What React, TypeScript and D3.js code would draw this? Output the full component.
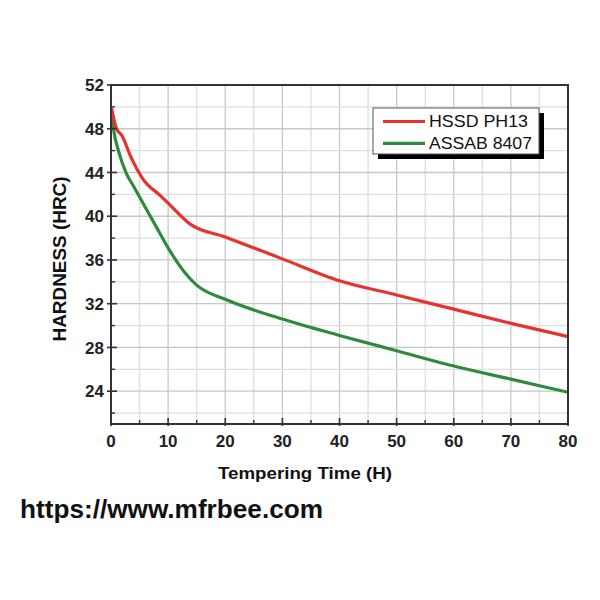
import React from "react";
import * as d3 from "d3";

const redTime = [0.1, 0.9, 2, 3.5, 5.6, 8.6, 10, 13.8, 20, 30, 40, 50, 60, 70, 80];
const redHardness = [49.9, 48.1, 47.3, 45.4, 43.4, 41.9, 41.2, 39.3, 38.1, 36.1, 34.1, 32.8, 31.5, 30.2, 29];
const greenTime = [0.1, 0.5, 1.3, 2.7, 4, 5.7, 8.6, 10, 12.7, 15, 20, 30, 40, 50, 60, 70, 80];
const greenHardness = [49.6, 47.8, 46, 43.9, 42.7, 41.1, 38.4, 37.1, 35, 33.7, 32.4, 30.6, 29.1, 27.7, 26.3, 25.1, 23.9];
const seriesNames = ["HSSD PH13", "ASSAB 8407"];
const xTicks = [0, 10, 20, 30, 40, 50, 60, 70, 80];
const yTicks = [24, 28, 32, 36, 40, 44, 48, 52];

const W = 600, H = 600;
const L = 111, R = 568, T = 85, B = 424;

export default function App() {
  const x = d3.scaleLinear().domain([0, 80]).range([L, R]);
  const y = d3.scaleLinear().domain([21, 52]).range([B, T]);
  const lineRed = d3.line<[number, number]>().x(d => x(d[0])).y(d => y(d[1])).curve(d3.curveMonotoneX);
  const lineGreen = d3.line<[number, number]>().x(d => x(d[0])).y(d => y(d[1])).curve(d3.curveMonotoneX);
  const red = redTime.map((t, i) => [t, redHardness[i]] as [number, number]);
  const green = greenTime.map((t, i) => [t, greenHardness[i]] as [number, number]);
  const vGrid = d3.range(5, 80, 5);
  const hGrid = d3.range(22, 52, 2);
  const xMinor = d3.range(5, 80, 10);
  const yMinor = d3.range(22, 52, 4);
  const font = "Liberation Sans, Arial, sans-serif";
  return (
    <svg width={W} height={H} style={{ position: "absolute", left: 0, top: 0, background: "#fff" }}>
      <rect width={W} height={H} fill="#fff" />
      {vGrid.map(v => (
        <line key={"vg" + v} x1={x(v)} x2={x(v)} y1={T} y2={B} stroke={v % 10 === 0 ? "#c8c8c8" : "#dedede"} strokeWidth={1.3} />
      ))}
      {hGrid.map(v => (
        <line key={"hg" + v} x1={L} x2={R} y1={y(v)} y2={y(v)} stroke={v % 4 === 0 ? "#c8c8c8" : "#dedede"} strokeWidth={1.3} />
      ))}
      <path d={lineGreen(green) || ""} fill="none" stroke="#2e8b3e" strokeWidth={3.2} strokeLinejoin="round" />
      <path d={lineRed(red) || ""} fill="none" stroke="#e8322f" strokeWidth={3.2} strokeLinejoin="round" />
      <rect x={L} y={T} width={R - L} height={B - T} fill="none" stroke="#333" strokeWidth={2} />
      {yTicks.map(v => (
        <g key={"yt" + v}>
          <line x1={L - 4} x2={L + 6} y1={y(v)} y2={y(v)} stroke="#333" strokeWidth={1.6} />
          <text x={L - 7} y={y(v)} dy="0.36em" textAnchor="end" fontFamily={font} fontWeight="bold" fontSize={17} fill="#222">{v}</text>
        </g>
      ))}
      {yMinor.map(v => (
        <line key={"ym" + v} x1={L} x2={L + 4} y1={y(v)} y2={y(v)} stroke="#333" strokeWidth={1.4} />
      ))}
      {xTicks.map(v => (
        <g key={"xt" + v}>
          <line x1={x(v)} x2={x(v)} y1={B + 2} y2={B - 6} stroke="#333" strokeWidth={1.6} />
          <text x={x(v)} y={446.5} textAnchor="middle" fontFamily={font} fontWeight="bold" fontSize={17} fill="#222">{v}</text>
        </g>
      ))}
      {xMinor.map(v => (
        <line key={"xm" + v} x1={x(v)} x2={x(v)} y1={B} y2={B - 4} stroke="#333" strokeWidth={1.4} />
      ))}
      <text transform={`translate(66,259) rotate(-90)`} textAnchor="middle" fontFamily={font} fontWeight="bold" fontSize={17.5} textLength={165} lengthAdjust="spacingAndGlyphs" fill="#111">HARDNESS (HRC)</text>
      <text x={218} y={479} fontFamily={font} fontWeight="bold" fontSize={17} textLength={174} lengthAdjust="spacingAndGlyphs" fill="#111">Tempering Time (H)</text>
      <g>
        <rect x={378} y={113} width={166} height={46} fill="#000" />
        <rect x={373} y={108} width={166} height={46} fill="#fff" stroke="#555" strokeWidth={1} />
        <line x1={383} x2={425} y1={121.5} y2={121.5} stroke="#e8322f" strokeWidth={3.2} />
        <line x1={383} x2={425} y1={143.3} y2={143.3} stroke="#2e8b3e" strokeWidth={3.2} />
        <text x={429} y={127} fontFamily={font} fontSize={16.5} textLength={99} lengthAdjust="spacingAndGlyphs" fill="#111">{seriesNames[0]}</text>
        <text x={429} y={149} fontFamily={font} fontSize={16.5} textLength={103} lengthAdjust="spacingAndGlyphs" fill="#111">{seriesNames[1]}</text>
      </g>
      <text x={20} y={518} fontFamily={font} fontWeight="bold" fontSize={25.5} textLength={303} lengthAdjust="spacingAndGlyphs" fill="#111">https://www.mfrbee.com</text>
    </svg>
  );
}
